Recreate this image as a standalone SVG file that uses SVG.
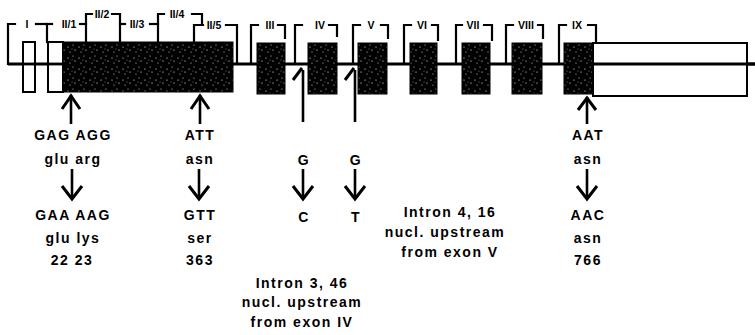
<svg xmlns="http://www.w3.org/2000/svg" width="755" height="335" viewBox="0 0 755 335">
<defs>
<pattern id="stip" width="11" height="11" patternUnits="userSpaceOnUse">
<rect width="11" height="11" fill="#000"/>
<circle cx="2" cy="3" r="0.6" fill="#fff"/>
<circle cx="7" cy="1" r="0.5" fill="#fff"/>
<circle cx="9" cy="6" r="0.6" fill="#fff"/>
<circle cx="4" cy="8" r="0.5" fill="#fff"/>
<circle cx="6" cy="5" r="0.4" fill="#fff"/>
</pattern>
<marker id="chev" viewBox="0 0 12 10" refX="6" refY="1.2" markerWidth="12" markerHeight="10" markerUnits="userSpaceOnUse" orient="auto-start-reverse">
<path d="M0,9 L6,1.2 L12,9" fill="none" stroke="#000" stroke-width="0"/>
</marker>
</defs>
<style>
.ln{fill:none;stroke:#000;stroke-width:2.2;stroke-linecap:square}
.main{fill:none;stroke:#000;stroke-width:2.8}
.ar{fill:none;stroke:#000;stroke-width:2.6}
.hd{fill:none;stroke:#000;stroke-width:3;stroke-linejoin:miter}
.white{fill:#fff;stroke:#000;stroke-width:2}
.blk{fill:url(#stip);stroke:#000;stroke-width:1}
.lab{font-family:"Liberation Sans",Arial,sans-serif;font-weight:bold;font-size:10.5px;text-anchor:middle}
.t{font-family:"Liberation Sans",Arial,sans-serif;font-weight:bold;font-size:14px;letter-spacing:1.5px;text-anchor:middle}
</style>
<rect width="755" height="335" fill="#fff"/>

<g id="connectors">
<line class="main" x1="8" y1="64" x2="755" y2="64"/>
<!-- brackets -->
<polyline class="ln" points="8,64 8,24 15,24"/>
<polyline class="ln" points="36,24 52,24"/>
<polyline class="ln" points="47,24 47,42"/>
<polyline class="ln" points="80,24 86,24"/>
<polyline class="ln" points="86,42 86,14 92,14"/>
<polyline class="ln" points="112,14 120,14 120,42"/>
<polyline class="ln" points="120,24 125,24"/>
<polyline class="ln" points="150,24 158,24"/>
<polyline class="ln" points="158,42 158,14 164,14"/>
<polyline class="ln" points="192,14 202,14 202,25"/>
<polyline class="ln" points="194,42 194,25 203,25"/>
<polyline class="ln" points="226,25 237,25 237,64"/>
<polyline class="ln" points="251,64 251,25 258,25"/>
<polyline class="ln" points="278,25 285,25 285,38"/>
<polyline class="ln" points="295,64 295,25 302,25"/>
<polyline class="ln" points="329,25 337,25 337,36"/>
<polyline class="ln" points="353,64 353,25 360,25"/>
<polyline class="ln" points="381,25 388,25 388,38"/>
<polyline class="ln" points="404,64 404,25 411,25"/>
<polyline class="ln" points="432,25 438,25 438,40"/>
<polyline class="ln" points="456,64 456,25 462,25"/>
<polyline class="ln" points="484,25 492,25 492,40"/>
<polyline class="ln" points="506,64 506,25 513,25"/>
<polyline class="ln" points="538,25 543,25 543,38"/>
<polyline class="ln" points="559,64 559,25 566,25"/>
<polyline class="ln" points="588,25 596,25 596,42"/>
</g>

<g id="exon-I"><rect class="white" x="23" y="42" width="12" height="50"/><line class="main" x1="23" y1="64" x2="35" y2="64"/><text class="lab" x="27" y="28">I</text></g>
<g id="exon-II"><rect class="white" x="48" y="42" width="15" height="50"/><line class="main" x1="48" y1="64" x2="63" y2="64"/><rect class="blk" x="63" y="42" width="170" height="50"/>
<text class="lab" x="69" y="28">II/1</text><text class="lab" x="102" y="18">II/2</text><text class="lab" x="137" y="28">II/3</text><text class="lab" x="177" y="18">II/4</text><text class="lab" x="214" y="29">II/5</text></g>
<g id="exon-III"><rect class="blk" x="257" y="43" width="28" height="51"/><text class="lab" x="270" y="29">III</text></g>
<g id="exon-IV"><rect class="blk" x="308" y="43" width="29" height="51"/><text class="lab" x="320" y="29">IV</text></g>
<g id="exon-V"><rect class="blk" x="358" y="43" width="29" height="51"/><text class="lab" x="371" y="29">V</text></g>
<g id="exon-VI"><rect class="blk" x="410" y="43" width="27" height="51"/><text class="lab" x="422" y="29">VI</text></g>
<g id="exon-VII"><rect class="blk" x="462" y="43" width="28" height="51"/><text class="lab" x="473" y="29">VII</text></g>
<g id="exon-VIII"><rect class="blk" x="512" y="43" width="30" height="51"/><text class="lab" x="526" y="29">VIII</text></g>
<g id="exon-IX"><rect class="blk" x="564" y="43" width="29" height="51"/><text class="lab" x="577" y="29">IX</text></g>
<g id="utr"><rect class="white" x="593" y="43" width="154" height="53"/><line class="main" x1="593" y1="64" x2="755" y2="64"/></g>

<g id="mutation-arrows">
<line class="ar" x1="71" y1="95" x2="71" y2="124"/><polyline class="hd" points="62,109 71,96 80,109"/>
<line class="ar" x1="200" y1="95" x2="200" y2="124"/><polyline class="hd" points="191,109 200,96 209,109"/>
<line class="ar" x1="587" y1="97" x2="587" y2="124"/><polyline class="hd" points="578,110 587,98 596,110"/>
<line class="ar" x1="303" y1="70" x2="303" y2="122"/><line class="hd" x1="293" y1="80" x2="302" y2="68"/>
<line class="ar" x1="355" y1="70" x2="355" y2="122"/><line class="hd" x1="345" y1="80" x2="354" y2="68"/>
<line class="ar" x1="72" y1="169" x2="72" y2="199"/><polyline class="hd" points="62,186 72,199 82,186"/>
<line class="ar" x1="199" y1="169" x2="199" y2="199"/><polyline class="hd" points="189,186 199,199 209,186"/>
<line class="ar" x1="303" y1="169" x2="303" y2="199"/><polyline class="hd" points="293,186 303,199 313,186"/>
<line class="ar" x1="355" y1="169" x2="355" y2="199"/><polyline class="hd" points="345,186 355,199 365,186"/>
<line class="ar" x1="587" y1="169" x2="587" y2="199"/><polyline class="hd" points="577,186 587,199 597,186"/>
</g>

<g id="labels">
<text class="t" x="73" y="140">GAG AGG</text>
<text class="t" x="73" y="164">glu arg</text>
<text class="t" x="73" y="220">GAA AAG</text>
<text class="t" x="73" y="243">glu lys</text>
<text class="t" x="72" y="265">22 23</text>
<text class="t" x="200" y="140">ATT</text>
<text class="t" x="200" y="164">asn</text>
<text class="t" x="200" y="220">GTT</text>
<text class="t" x="200" y="243">ser</text>
<text class="t" x="200" y="265">363</text>
<text class="t" x="304" y="165">G</text>
<text class="t" x="304" y="222">C</text>
<text class="t" x="356" y="165">G</text>
<text class="t" x="356" y="222">T</text>
<text class="t" x="588" y="140">AAT</text>
<text class="t" x="588" y="164">asn</text>
<text class="t" x="588" y="220">AAC</text>
<text class="t" x="588" y="243">asn</text>
<text class="t" x="588" y="265">766</text>
<text class="t" x="302" y="288">Intron 3, 46</text>
<text class="t" x="302" y="307">nucl. upstream</text>
<text class="t" x="302" y="327">from exon IV</text>
<text class="t" x="450" y="217">Intron 4, 16</text>
<text class="t" x="445" y="237">nucl. upstream</text>
<text class="t" x="450" y="257">from exon V</text>
</g>
</svg>
